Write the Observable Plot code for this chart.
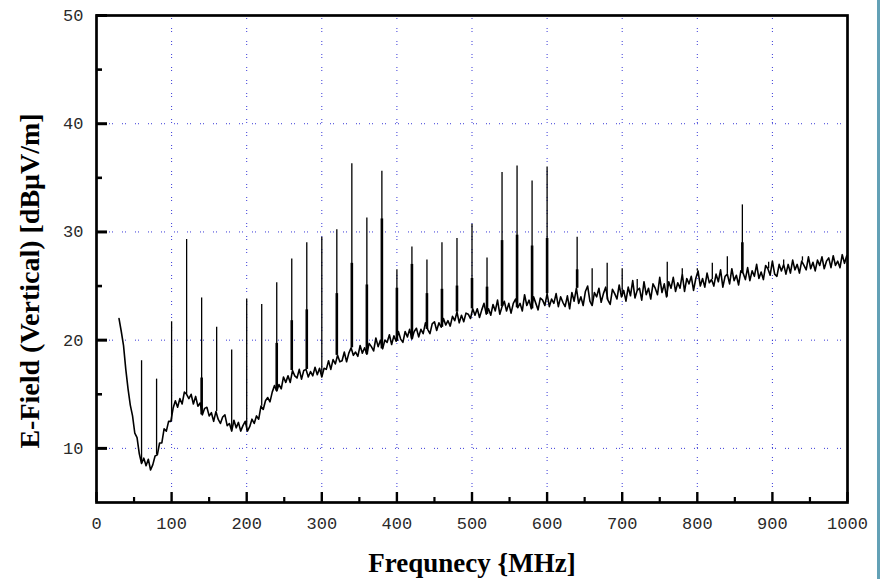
<!DOCTYPE html>
<html>
<head>
<meta charset="utf-8">
<script src="https://cdn.jsdelivr.net/npm/d3@7"></script>
<script src="https://cdn.jsdelivr.net/npm/@observablehq/plot@0.6"></script>
<style>
  html, body { margin: 0; padding: 0; background: #fff; overflow: hidden; }
  #wrap { position: relative; width: 881px; height: 579px; }
  #edge { position: absolute; left: 877px; top: 0; width: 3px; height: 579px; background: #63a1b6; }
</style>
</head>
<body>
<div id="wrap"><div id="chart"></div><div id="edge"></div></div>
<script>
// Measured sweep: field strength sampled every 3 MHz from 30 MHz
const sweepStartMHz = 30;
const sweepStepMHz = 3;
const sweepLevels = [
  // 30 – 126 MHz
  22.0, 20.8, 19.5, 17.3, 15.5, 14.0, 13.0, 11.4, 11.0, 9.5, 8.6, 9.1, 8.4, 9.0, 8.0, 8.5, 9.3,
  9.4, 10.5, 10.5, 11.8, 11.6, 12.5, 12.5, 13.7, 14.4, 13.8, 14.6, 14.1, 15.2, 15.0, 14.6, 15.0,
  // 129 – 225 MHz
  14.1, 14.8, 13.9, 14.2, 13.1, 13.7, 13.8, 13.0, 13.3, 12.5, 13.4, 12.7, 12.3, 12.9, 13.1, 12.1, 12.3,
  11.6, 12.6, 11.9, 12.4, 11.6, 12.1, 12.5, 11.6, 12.0, 12.7, 12.3, 13.0, 12.7, 13.9, 13.6, 14.4,
  // 228 – 324 MHz
  14.7, 14.3, 15.2, 15.8, 15.3, 15.9, 15.5, 16.6, 16.1, 16.7, 16.1, 17.2, 16.7, 16.5, 17.3, 16.4, 17.2,
  17.3, 16.6, 17.1, 16.7, 17.5, 16.8, 17.4, 16.6, 17.4, 17.3, 18.1, 17.3, 18.2, 17.8, 18.6, 18.0,
  // 327 – 423 MHz
  18.1, 18.9, 18.0, 18.8, 19.3, 18.6, 18.9, 18.5, 19.5, 18.8, 19.3, 18.7, 19.7, 19.4, 19.0, 20.2, 19.4,
  20.0, 19.2, 20.0, 19.8, 20.5, 19.6, 20.4, 19.9, 20.8, 20.1, 19.8, 20.8, 20.3, 21.0, 20.1, 20.8,
  // 426 – 522 MHz
  21.1, 20.3, 21.0, 20.6, 21.6, 21.0, 20.6, 21.5, 21.7, 20.9, 21.6, 21.2, 22.0, 21.4, 21.8, 21.3, 22.2,
  21.8, 22.6, 21.6, 22.3, 21.7, 22.5, 22.4, 22.0, 22.9, 22.3, 22.9, 22.1, 22.8, 23.4, 22.4, 22.9,
  // 525 – 621 MHz
  22.3, 23.3, 22.7, 23.7, 22.4, 23.1, 23.6, 22.7, 23.4, 22.5, 23.4, 23.8, 23.0, 23.4, 22.7, 24.2, 23.2,
  23.7, 22.9, 24.0, 23.4, 22.8, 23.9, 23.7, 23.2, 24.3, 23.1, 23.8, 23.4, 24.3, 23.1, 24.0, 23.5,
  // 624 – 720 MHz
  23.1, 24.1, 22.9, 24.4, 23.6, 24.8, 23.4, 24.0, 23.2, 24.5, 25.0, 23.6, 23.2, 24.4, 24.0, 24.8, 23.5,
  24.3, 24.9, 23.7, 23.3, 24.7, 24.3, 23.8, 25.1, 24.0, 24.6, 23.6, 24.9, 24.1, 25.5, 23.9, 24.6,
  // 723 – 819 MHz
  24.8, 23.7, 25.4, 24.2, 24.8, 23.8, 25.2, 24.8, 24.2, 25.8, 24.4, 25.2, 24.0, 25.4, 24.8, 25.8, 24.5,
  25.3, 24.8, 26.1, 24.5, 25.7, 25.2, 25.9, 24.6, 25.7, 26.4, 25.0, 25.7, 24.9, 26.2, 25.3, 25.6,
  // 822 – 918 MHz
  25.0, 26.1, 25.4, 26.5, 24.9, 25.9, 26.1, 25.2, 26.6, 25.5, 26.0, 25.1, 26.4, 26.2, 25.6, 26.7, 25.5,
  26.4, 25.9, 27.0, 25.7, 26.3, 25.6, 26.9, 26.6, 26.0, 27.3, 26.1, 25.9, 27.0, 26.4, 27.0, 26.1,
  // 921 – 999 MHz
  27.0, 26.2, 27.4, 26.5, 27.0, 26.2, 27.3, 26.9, 26.5, 27.7, 26.6, 27.2, 26.4, 27.4,
  26.9, 27.7, 26.6, 27.3, 27.6, 26.7, 27.8, 26.9, 27.3, 26.7, 27.9, 27.1, 27.8
];

// Narrow-band emissions (clock harmonics and others)
const spikeFreqs = [60, 80, 100, 120, 140, 160, 180, 200, 220, 240, 260, 280, 300, 320, 340, 360, 380, 400, 420, 440,
  460, 480, 500, 520, 540, 560, 580, 600, 640, 660, 680, 700, 720, 760, 780, 800, 820, 840, 860, 895, 915, 940];
const spikePeaks = [18.1, 16.4, 21.7, 29.3, 23.9, 21.2, 19.1, 23.8, 23.3, 25.3, 27.5, 29.0, 29.5, 30.2, 36.3, 31.3, 35.6, 26.5, 28.6, 27.4,
  29.0, 29.4, 30.7, 27.6, 35.5, 36.1, 34.7, 36.0, 29.5, 26.6, 27.1, 26.6, 25.6, 27.2, 26.6, 26.6, 27.1, 27.7, 32.5, 27.2, 27.4, 27.7];
// Level of the neighbouring sweep sample on each emission (null where it sits on the floor)
const spikeShoulders = [null, null, null, null, 16.5, null, null, null, null, 19.7, 21.8, 22.8, null, 24.3, 27.1, 25.1, 31.2, 24.8, 27.0, 24.3,
  24.7, 25.0, 25.7, 24.9, 29.2, 29.7, 28.7, 29.4, 26.5, null, null, null, null, null, null, null, null, null, 29.0, null, null, null];

const xTicks = [0, 100, 200, 300, 400, 500, 600, 700, 800, 900, 1000];
const xMinorTicks = [50, 150, 250, 350, 450, 550, 650, 750, 850, 950];
const yTicks = [10, 20, 30, 40, 50];
const yMinorTicks = [15, 25, 35, 45];
const xGridLines = [100, 200, 300, 400, 500, 600, 700, 800, 900];
const yGridLines = [10, 20, 30, 40];

const xTitle = "Frequnecy {MHz]";
const yTitle = "E-Field (Vertical) [dBμV/m]";

const sweep = sweepLevels.map((level, i) => ({f: sweepStartMHz + i * sweepStepMHz, level}));
const floorAt = (f) => {
  const i = Math.max(0, Math.min(sweep.length - 1, Math.round((f - sweepStartMHz) / sweepStepMHz)));
  return sweep[i].level;
};
const spikes = spikeFreqs.map((f, i) => ({f, peak: spikePeaks[i], shoulder: spikeShoulders[i], base: floorAt(f)}));

const W = 881, H = 579;
const mL = 96, mR = 34, mT = 15, mB = 77;
const plotW = W - mL - mR, plotH = H - mT - mB;

const gridStyle = {stroke: "#2f2fd6", strokeOpacity: 0.95, strokeWidth: 1, strokeDasharray: "1,2,1,9"};
const tickFont = {fontFamily: "'Liberation Mono', 'DejaVu Sans Mono', monospace", fontSize: 17, fill: "#2a2a2a", tickFormat: d => String(d)};
const titleFont = {fontFamily: "'Liberation Serif', 'DejaVu Serif', serif", fontWeight: "bold", fill: "#000"};

const chart = Plot.plot({
  width: W, height: H,
  marginLeft: mL, marginRight: mR, marginTop: mT, marginBottom: mB,
  x: {domain: [0, 1000]},
  y: {domain: [5, 50]},
  marks: [
    Plot.gridX(xGridLines, gridStyle),
    Plot.gridY(yGridLines, gridStyle),
    Plot.line(sweep, {x: "f", y: "level", stroke: "#000", strokeWidth: 1.6}),
    Plot.ruleX(spikes, {x: "f", y1: "base", y2: "peak", stroke: "#000", strokeWidth: 1.3}),
    Plot.ruleX(spikes.filter(d => d.shoulder != null), {x: "f", y1: "base", y2: "shoulder", stroke: "#000", strokeWidth: 2.6}),
    Plot.tickY(yTicks, {y: d => d, insetRight: plotW - 11, stroke: "#000", strokeWidth: 3}),
    Plot.tickY(yMinorTicks, {y: d => d, insetRight: plotW - 6, stroke: "#000", strokeWidth: 2.6}),
    Plot.tickX(xTicks, {x: d => d, insetTop: plotH - 10, stroke: "#000", strokeWidth: 2.4}),
    Plot.tickX(xMinorTicks, {x: d => d, insetTop: plotH - 5, stroke: "#000", strokeWidth: 2.2}),
    Plot.axisX(xTicks, {tickSize: 0, tickPadding: 14, label: null, ...tickFont}),
    Plot.axisY(yTicks, {tickSize: 0, tickPadding: 13, label: null, ...tickFont}),
    Plot.frame({stroke: "#000", strokeWidth: 2.7}),
    Plot.text([yTitle], {frameAnchor: "left", textAnchor: "middle", lineAnchor: "middle", dx: -66, dy: 22, rotate: -90,
      text: d => d, fontSize: 28, ...titleFont}),
    Plot.text([xTitle], {frameAnchor: "bottom", textAnchor: "middle", lineAnchor: "middle", dy: 61,
      text: d => d, fontSize: 27, ...titleFont})
  ]
});
document.getElementById("chart").appendChild(chart);
</script>
</body>
</html>
